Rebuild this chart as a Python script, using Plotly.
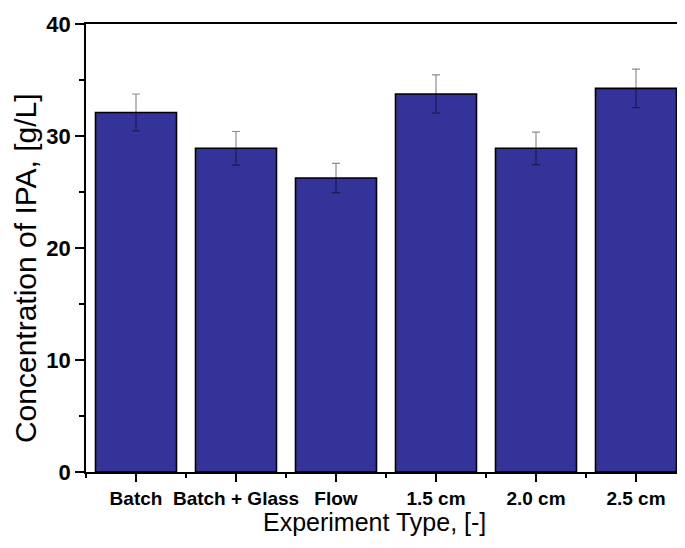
import plotly.graph_objects as go

categories = ["Batch", "Batch + Glass", "Flow", "1.5 cm", "2.0 cm", "2.5 cm"]
concentration = [32.1, 28.9, 26.25, 33.75, 28.9, 34.25]
error = [1.65, 1.5, 1.3, 1.7, 1.45, 1.72]
y_ticks = [0, 10, 20, 30, 40]

x_pos = list(range(len(categories)))

fig = go.Figure()
fig.add_trace(go.Bar(
    x=x_pos,
    y=concentration,
    width=0.81,
    marker=dict(color="#333399", line=dict(color="#000000", width=1.6)),
    error_y=dict(type="data", array=error, visible=True,
                 color="rgba(0,0,0,0.45)", thickness=1.2, width=4),
    showlegend=False,
))

fig.update_layout(
    width=677, height=540,
    margin=dict(l=78, r=0, t=16, b=76, autoexpand=False),
    paper_bgcolor="white", plot_bgcolor="white",
    font=dict(family="Liberation Sans, Arial, sans-serif", color="black"),
    bargap=0.19,
    annotations=[
        dict(text="Experiment Type, [-]", xref="paper", yref="paper",
             x=0.481, y=-0.112, xanchor="center", yanchor="middle",
             showarrow=False, font=dict(size=25, family="Liberation Sans, Arial")),
        dict(text="Concentration of IPA, [g/L]", xref="paper", yref="paper",
             x=-0.102, y=0.455, xanchor="center", yanchor="middle", textangle=-90,
             showarrow=False, font=dict(size=30, family="Liberation Sans, Arial")),
    ],
)

fig.update_xaxes(
    range=[-0.5, 5.49], automargin=False,
    tickmode="array", tickvals=x_pos, ticktext=categories,
    tickfont=dict(size=19, family="Liberation Sans, Arial", weight="bold"),
    ticks="outside", ticklen=8, tickwidth=1.5, tickcolor="black",
    minor=dict(ticks="outside", tick0=0.5, dtick=1, ticklen=4, tickwidth=1.5, tickcolor="black"),
    showline=True, linecolor="black", linewidth=1.8, mirror=True,
    showgrid=False, zeroline=False,
)

fig.update_yaxes(
    range=[0, 40], automargin=False,
    tickmode="array", tickvals=y_ticks,
    tickfont=dict(size=22, family="Liberation Sans, Arial", weight="bold"),
    ticks="outside", ticklen=9, tickwidth=1.5, tickcolor="black",
    minor=dict(ticks="outside", tick0=5, dtick=10, ticklen=5, tickwidth=1.5, tickcolor="black"),
    showline=True, linecolor="black", linewidth=1.8,
    showgrid=False, zeroline=False,
)

fig.write_html("out.html")
